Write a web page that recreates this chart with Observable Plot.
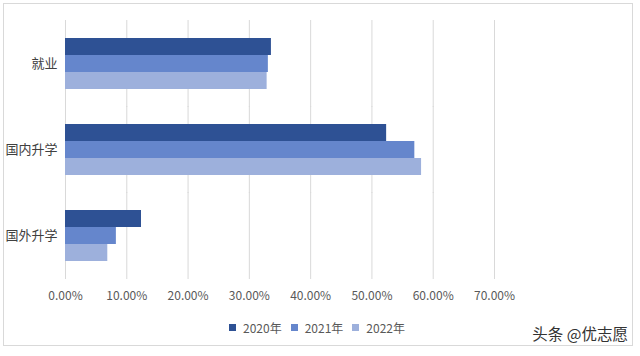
<!DOCTYPE html>
<html>
<head>
<meta charset="utf-8">
<script src="https://cdn.jsdelivr.net/npm/d3@7"></script>
<script src="https://cdn.jsdelivr.net/npm/@observablehq/plot@0.6"></script>
<style>
  body { margin: 0; background: #fff; font-family: "Noto Sans CJK SC", "Microsoft YaHei", sans-serif; }
  #wrap { position: relative; width: 640px; height: 356px; overflow: hidden; }
  #frame { position: absolute; left: 3px; top: 3px; width: 630px; height: 343px; border: 1px solid #d9d9d9; box-sizing: border-box; }
  #chart { position: absolute; left: 0; top: 0; }
  #legend { position: absolute; left: 0; width: 634px; top: 319px; display: flex; justify-content: center; gap: 9px; font-size: 12px; color: #595959; }
  #legend span.item { display: inline-flex; align-items: center; }
  #legend i { display: inline-block; width: 7px; height: 7px; margin-right: 7px; }
  #credit { position: absolute; right: 12px; top: 322px; font-size: 15.5px; color: #333; }
</style>
</head>
<body>
<div id="wrap">
  <div id="frame"></div>
  <div id="chart"></div>
  <div id="legend"></div>
  <div id="credit">头条 @优志愿</div>
</div>
<script>
const categories = ["就业", "国内升学", "国外升学"];
const years = ["2020年", "2021年", "2022年"];
const values2020 = [0.336, 0.524, 0.124];
const values2021 = [0.331, 0.570, 0.083];
const values2022 = [0.329, 0.581, 0.069];
const colors = ["#2e5194", "#6586cc", "#9db0dc"];
const xTicks = [0, 0.1, 0.2, 0.3, 0.4, 0.5, 0.6, 0.7];

const series = [values2020, values2021, values2022];
const data = [];
categories.forEach((c, i) => {
  years.forEach((y, j) => data.push({category: c, year: y, value: series[j][i]}));
});

const chart = Plot.plot({
  width: 640,
  height: 310,
  marginLeft: 65,
  marginRight: 146,
  marginTop: 36,
  marginBottom: 48,
  style: {fontFamily: "Noto Sans CJK SC, sans-serif", background: "transparent"},
  x: {domain: [0, 0.7], ticks: xTicks, tickFormat: d3.format(".2%"), label: null},
  y: {domain: years, axis: null, padding: 0},
  fy: {domain: categories, padding: 0.388, label: null},
  color: {domain: years, range: colors},
  marks: [
    Plot.ruleX(xTicks, {x: d => d, stroke: "#d9d9d9", strokeOpacity: 1, insetTop: -17, insetBottom: -17}),
    Plot.barX(data, {fy: "category", y: "year", x: "value", fill: "year"}),
    Plot.axisX({ticks: xTicks, tickFormat: d3.format(".2%"), tickSize: 0, tickPadding: 29, fontSize: 12, fill: "#595959", label: null}),
    Plot.axisFy({anchor: "left", tickSize: 0, tickPadding: 8, fontSize: 13, fill: "#404040", label: null})
  ]
});
document.getElementById("chart").appendChild(chart);

const legend = document.getElementById("legend");
years.forEach((y, j) => {
  const s = document.createElement("span");
  s.className = "item";
  s.innerHTML = `<i style="background:${colors[j]}"></i>${y}`;
  legend.appendChild(s);
});
</script>
</body>
</html>
